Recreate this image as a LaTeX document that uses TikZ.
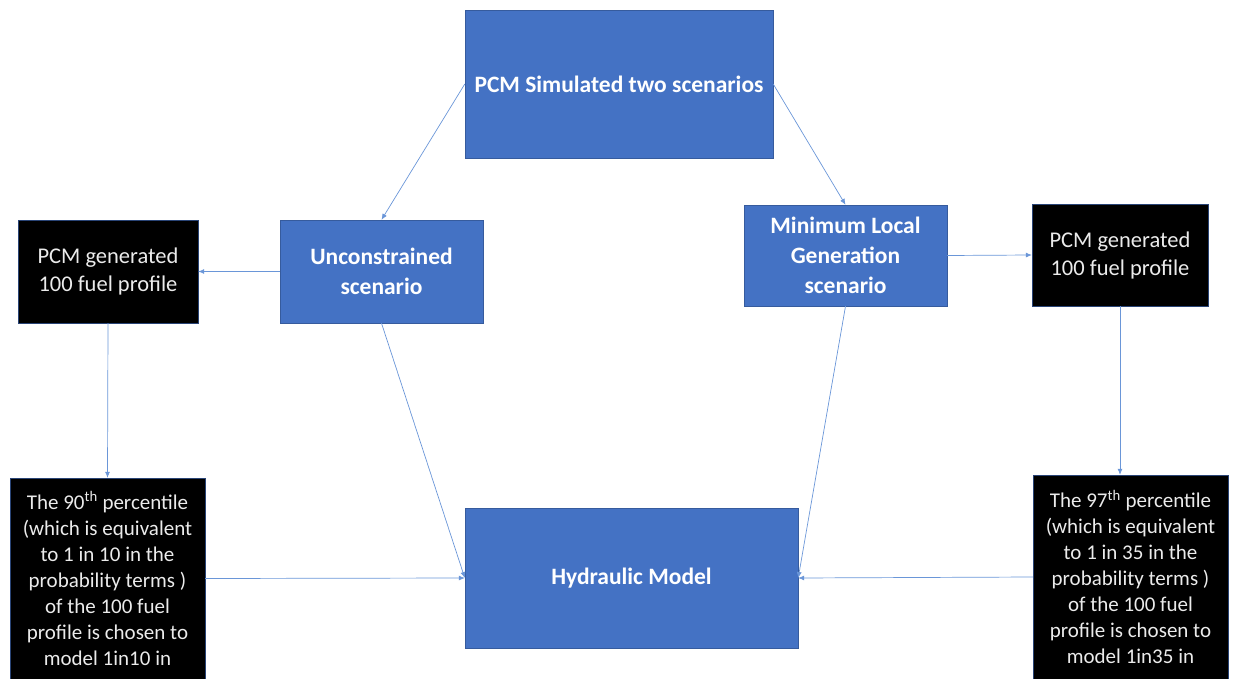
\documentclass[tikz,border=0pt]{standalone}
\usepackage{fontspec}
\setmainfont{Carlito}
\usetikzlibrary{arrows.meta}
\definecolor{boxblue}{HTML}{4472C4}
\definecolor{lineblue}{HTML}{6A96D8}
\begin{document}
\begin{tikzpicture}[x=1pt,y=-1pt,
  bluebox/.style={rectangle,fill=boxblue,draw=boxblue!80!black,line width=0.4pt,text=white,font=\fontsize{23.5}{30}\selectfont\bfseries,align=center,inner sep=0pt},
  blackbox/.style={rectangle,fill=black,draw=boxblue!60!black,line width=0.4pt,text=white!92!black,font=\fontsize{22.5}{28}\selectfont,align=center,inner sep=0pt},
  blackboxs/.style={blackbox,font=\fontsize{21}{26}\selectfont},
  conn/.style={draw=lineblue,line width=0.7pt,-{Latex[length=6pt,width=5pt]}}]
\useasboundingbox (0,0) rectangle (1233,679);
\node[bluebox,minimum width=308pt,minimum height=148pt] (top) at (619,84) {PCM Simulated two scenarios};
\node[bluebox,minimum width=203pt,minimum height=103pt] (unc) at (381.5,271.5) {Unconstrained\\scenario};
\node[bluebox,minimum width=203pt,minimum height=101pt] (mlg) at (845.5,255.5) {Minimum Local\\Generation\\scenario};
\node[blackbox,minimum width=180pt,minimum height=103pt] (lb1) at (108,271.5) {PCM generated\\100 fuel profile};
\node[blackbox,minimum width=176pt,minimum height=102pt] (rb1) at (1120,255) {PCM generated\\100 fuel profile};
\node[blackboxs,minimum width=195pt,minimum height=201pt] (lb2) at (107.5,578.5) {The 90\textsuperscript{th} percentile\\(which is equivalent\\to 1 in 10 in the\\probability terms )\\of the 100 fuel\\profile is chosen to\\model 1in10 in};
\node[blackboxs,minimum width=195pt,minimum height=204pt] (rb2) at (1130.5,577) {The 97\textsuperscript{th} percentile\\(which is equivalent\\to 1 in 35 in the\\probability terms )\\of the 100 fuel\\profile is chosen to\\model 1in35 in};
\node[bluebox,minimum width=333pt,minimum height=140pt] (hyd) at (631.5,578) {Hydraulic Model};
\draw[conn] (top.west) -- (unc.north);
\draw[conn] (top.east) -- (mlg.north);
\draw[conn] (unc.west) -- (lb1.east);
\draw[conn] (mlg.east) -- (rb1.west);
\draw[conn] (lb1.south) -- (lb2.north);
\draw[conn] (rb1.south) -- (rb1.south |- rb2.north);
\draw[conn] (unc.south) -- (hyd.west);
\draw[conn] (mlg.south) -- (hyd.east);
\draw[conn] (lb2.east) -- (hyd.west);
\draw[conn] (rb2.west) -- (hyd.east);
\end{tikzpicture}
\end{document}
